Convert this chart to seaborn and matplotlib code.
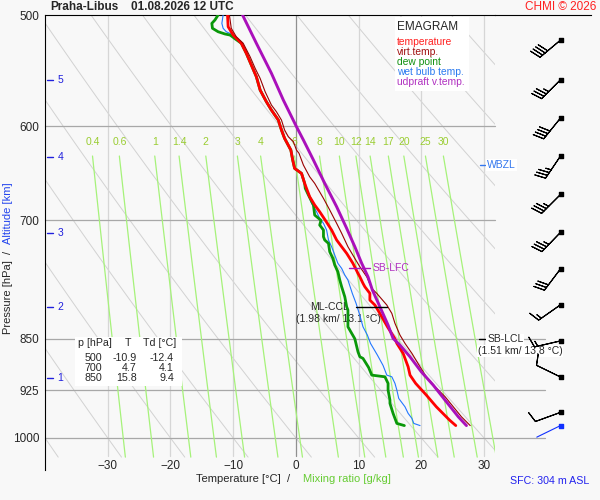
import numpy as np
import matplotlib
matplotlib.use("Agg")
import matplotlib.pyplot as plt
import seaborn as sns
from matplotlib.patches import Rectangle
from matplotlib.ticker import FixedLocator, FixedFormatter, NullLocator

# ---- sounding values (pressure hPa, temperature degC) ----
t_p = [500, 509.7, 516.7, 523.7, 532.4, 542.7, 553.2, 565.4, 576.4, 584.3, 593.9, 603.7,
       612, 623.9, 634.2, 642.9, 648.2, 658.9, 673.5, 682.7, 690.3, 700, 711.3, 723, 731,
       739, 751.2, 763.6, 767.9, 776.2, 780.6, 789.1, 797.8, 804.3, 819.9, 833.5, 850,
       856.5, 863.5, 870.6, 877.8, 890, 902.2, 914.5, 932.2, 950.3, 971.2, 980]
t_val = [-10.9, -10.8, -10.0, -8.7, -7.9, -7.1, -6.3, -5.7, -4.7, -3.9, -2.8, -2.3,
         -1.8, -0.8, -0.5, -0.2, 0.9, 1.4, 2.2, 3.0, 3.8, 4.7, 5.7, 6.5, 7.3,
         8.1, 9.1, 9.9, 10.2, 10.7, 11.0, 11.8, 11.8, 12.6, 13.7, 14.6, 15.8,
         16.1, 16.6, 17.1, 17.4, 17.9, 18.2, 19.1, 20.8, 22.4, 24.5, 25.5]

tv_p = [500, 511, 518.1, 523.7, 535.4, 545.6, 554.7, 567, 579.5, 585.9, 593.9, 603.7,
        610.4, 615.4, 623.9, 627.2, 639.4, 651.8, 658.9, 675.3, 688.3, 703.5, 715.1, 731,
        745.1, 755.4, 767.9, 782.6, 789.1, 804.3, 815.4, 828.8, 844.9, 856.5, 870.6, 890,
        904.7, 919.6, 934.8, 950.3, 966, 980]
tv_val = [-10.6, -10.3, -9.5, -8.4, -7.3, -6.5, -5.7, -4.9, -3.9, -3.1, -2.3, -1.8,
          -1.2, -0.4, 0.1, 0.5, 1.2, 2.2, 3.0, 4.4, 5.4, 6.5, 7.3, 8.3,
          9.4, 10.2, 11.3, 12.1, 12.9, 14.5, 15.3, 15.8, 16.6, 17.4, 18.5, 19.8,
          20.8, 22.2, 23.8, 25.1, 26.4, 27.8]

td_p = [500, 504.1, 506.9, 511, 513.9, 515.8, 516.7, 518.6, 519.5, 523.7, 532.4, 542.7,
        553.2, 565.4, 576.4, 584.3, 593.9, 603.7, 612, 623.9, 634.2, 642.9, 648.2, 658.9,
        664.3, 671.6, 682.7, 694, 700, 705.5, 711.3, 719.1, 723, 727, 737, 745.1, 753.3,
        761.6, 772, 780.6, 793.5, 806.6, 811, 833.5, 842.5, 850, 868.3, 875.5, 877.8,
        891, 902.2, 904.7, 914.5, 924.6, 939.9, 945, 960.6, 976.5, 980]
td_val = [-12.4, -12.9, -13.4, -13.3, -12.4, -11.3, -10.5, -10.0, -9.8, -8.7, -7.9, -7.1,
          -6.3, -5.7, -4.7, -3.9, -2.8, -2.3, -1.8, -0.8, -0.5, -0.2, 0.9, 1.4,
          1.5, 2.0, 2.8, 3.0, 4.0, 3.8, 4.4, 4.4, 4.6, 5.2, 5.4, 5.9, 6.2,
          6.7, 7.0, 7.3, 7.8, 8.1, 8.3, 8.3, 8.9, 9.4, 9.9, 10.2, 10.7,
          11.6, 12.1, 14.2, 14.7, 14.7, 15.0, 15.0, 15.5, 16.1, 17.3]

tw_p = [500, 506.9, 511, 513.9, 515.8, 517.5, 523.7, 532.4, 542.7, 553.2, 565.4, 576.4,
        584.3, 593.9, 603.7, 612, 623.9, 634.2, 642.9, 648.2, 658.9, 673.5, 680.8, 690.3,
        697.8, 703.5, 711.3, 723, 731, 741, 751.2, 757.4, 765.7, 772, 789.1, 802.1, 818,
        833.5, 844.9, 856.5, 873.1, 888, 902.2, 904.7, 914.5, 924.6, 937.3, 950.3, 960.6,
        968.5, 976.5, 980]
tw_val = [-11.6, -11.8, -11.6, -11.1, -10.3, -10.0, -8.7, -7.9, -7.1, -6.3, -5.7, -4.7,
          -3.9, -2.8, -2.3, -1.8, -0.8, -0.5, -0.2, 0.9, 1.4, 2.1, 2.5, 3.3,
          3.8, 4.4, 4.9, 5.2, 5.7, 6.2, 6.7, 7.3, 7.8, 8.3, 9.0, 9.6, 10.2,
          10.7, 11.4, 11.9, 13.0, 13.9, 14.5, 15.3, 15.8, 16.1, 16.4, 17.4, 17.9,
          18.5, 18.8, 19.8]

up_p = [500, 523.7, 550.1, 574.8, 600.5, 613.7, 634.2, 658.9, 684.6, 709.3, 731, 751.2,
        767.9, 784.8, 806.6, 831.2, 849.5, 858.9, 875.5, 897.3, 917.1, 942.5, 966, 980]
up_val = [-8.5, -6.3, -3.9, -2.0, 0.1, 1.2, 2.8, 4.6, 6.5, 8.1, 9.4, 10.5,
          11.5, 12.2, 13.4, 14.7, 15.5, 16.6, 18.2, 20.0, 21.9, 24.0, 25.9, 27.2]

# wind barbs (last one = surface, drawn in blue)
wind_p = [521, 556, 592, 630, 671, 714, 758, 804, 853, 905, 959, 980]
wind_dir = [230, 225, 219, 214, 225, 224, 217, 235, 257, 296, 250, 244]
wind_spd = [40, 35, 40, 35, 35, 35, 30, 15, 15, 10, 10, 3]

# altitude marks (km) and the pressure where they sit
alt_km = [1, 2, 3, 4, 5]
alt_p = [907, 807, 715, 631, 556]

# background lines
mix_ratios = [0.4, 0.6, 1, 1.4, 2, 3, 4, 6, 8, 10, 12, 14, 17, 20, 25, 30]
mix_labels = ["0.4", "0.6", "1", "1.4", "2", "3", "4", "6", "8", "10", "12", "14", "17", "20", "25", "30"]
theta_c = list(range(-50, 110, 10))
p_ticks = [500, 600, 700, 850, 925, 1000]
t_ticks = [-30, -20, -10, 0, 10, 20, 30]

tbl_p = [500, 700, 850]
tbl_t = [-10.9, 4.7, 15.8]
tbl_td = [-12.4, 4.1, 9.4]

sns.set_style("white")
plt.rcParams['font.family'] = ['Liberation Sans', 'DejaVu Sans']

W, H = 600, 500
BG = '#f8f8f8'
fig = plt.figure(figsize=(6, 5), dpi=100, facecolor=BG)


def fx(x):
    return x / W


def fy(y):
    return 1 - y / H


ax = fig.add_axes([fx(45), fy(470), 450 / W, 455 / H])
ax.set_facecolor(BG)
ax.set_yscale('log')
ax.set_xlim(-40, 31.75)
ax.set_ylim(1054, 500)

P_LOW = 1032
# dry adiabats
pp = np.linspace(500, P_LOW, 80)
for th in theta_c:
    tt = (th + 273.15) * (pp / 1000.0) ** 0.2857 - 273.15
    ax.plot(tt, pp, color='#d2d2d2', lw=0.7, zorder=1)

# mixing ratio lines
pm = np.linspace(630, P_LOW, 30)
for w, lab in zip(mix_ratios, mix_labels):
    e = w * pm / (622.0 + w)
    le = np.log(e / 6.112)
    tdm = 243.5 * le / (17.67 - le)
    ax.plot(tdm, pm, color='#a6f27a', lw=0.9, zorder=1.5)
    ax.text(tdm[0], 615.7, lab, color='#9acd32', fontsize=7.5, ha='center', va='center', zorder=2)

# grid
for t in t_ticks:
    ax.plot([t, t], [500, 1030], color='#909090' if t == 0 else '#d6d6d6', lw=0.9, zorder=1.2)
for p in p_ticks[1:]:
    xr = 39.7 if p >= 850 else 31.75
    ax.plot([-40, xr], [p, p], color='#a8a8a8', lw=0.9, zorder=1.3, clip_on=False)

# white boxes (legend, table)
fig.patches.append(Rectangle((fx(395), fy(91)), 74 / W, 74 / H, transform=fig.transFigure,
                             facecolor='white', edgecolor='none', zorder=3))
fig.patches.append(Rectangle((fx(75), fy(386)), 107 / W, 49 / H, transform=fig.transFigure,
                             facecolor='white', edgecolor='none', zorder=3))

# profiles
sns.lineplot(x=tw_val, y=tw_p, sort=False, estimator=None, ax=ax, color='#2277ff', lw=0.8, zorder=4)
sns.lineplot(x=td_val, y=td_p, sort=False, estimator=None, ax=ax, color='#0a980a', lw=2.0, zorder=4)
sns.lineplot(x=t_val, y=t_p, sort=False, estimator=None, ax=ax, color='#ff0000', lw=2.0, zorder=5)
sns.lineplot(x=tv_val, y=tv_p, sort=False, estimator=None, ax=ax, color='#990000', lw=0.8, zorder=5)
sns.lineplot(x=up_val, y=up_p, sort=False, estimator=None, ax=ax, color='#aa10bb', lw=2.1, zorder=6)

# axes styling
for s in ['right', 'bottom']:
    ax.spines[s].set_visible(False)
ax.spines['left'].set_color('black')
ax.spines['top'].set_color('black')
ax.yaxis.set_major_locator(FixedLocator(p_ticks))
ax.yaxis.set_major_formatter(FixedFormatter([str(p) for p in p_ticks]))
ax.yaxis.set_minor_locator(NullLocator())
ax.set_xticks(t_ticks)
ax.tick_params(axis='y', length=0, pad=4, labelsize=8.5)
ax.tick_params(axis='x', length=0, pad=-7, labelsize=8.5)
ax.grid(False)

# altitude marks
for km, p in zip(alt_km, alt_p):
    ax.plot([0.005, 0.018], [p, p], transform=ax.get_yaxis_transform(), color='#2020dd', lw=1.0)
    ax.text(0.028, p, str(km), transform=ax.get_yaxis_transform(), color='#2020dd',
            fontsize=7.5, va='center', ha='left')

# annotations
ax.plot([8.45, 11.8], [757.4, 757.4], color='#aa10bb', lw=1.0, zorder=7)
ax.text(12.3, 757.4, 'SB-LFC', color='#b030c0', fontsize=7.5, va='center', ha='left', zorder=7)
ax.plot([9.6, 14.5], [807.4, 807.4], color='black', lw=1.0, zorder=7)
ax.text(5.3, 807.4, 'ML-CCL', fontsize=7.5, va='center', ha='center', zorder=3.5)
ax.text(6.8, 822.9, '(1.98 km/ 13.1 °C)', fontsize=7.5, va='center', ha='center', zorder=3.5)
ax.plot([29.2, 30.2], [851, 851], color='black', lw=1.0, zorder=7)
ax.text(30.5, 851, 'SB-LCL', fontsize=7.5, va='center', ha='left', zorder=8,
        bbox=dict(facecolor='white', edgecolor='none', pad=0.5))
ax.text(29.0, 867, '(1.51 km/ 13.8 °C)', fontsize=7.5, va='center', ha='left', zorder=8,
        bbox=dict(facecolor='white', edgecolor='none', pad=0.5))
ax.plot([29.3, 30.1], [639.4, 639.4], color='#3377ee', lw=1.0, zorder=7)
ax.text(30.5, 639.4, 'WBZL', color='#3377ee', fontsize=7.5, va='center', ha='left', zorder=8,
        bbox=dict(facecolor='white', edgecolor='none', pad=1.0))

# wind barbs
ax2 = fig.add_axes([fx(495), fy(470), 96 / W, 455 / H], sharey=ax)
ax2.set_facecolor('none')
ax2.set_xlim(0, 96)
for s in ['right', 'bottom', 'left']:
    ax2.spines[s].set_visible(False)
ax2.spines['top'].set_color('black')
ax2.tick_params(left=False, labelleft=False, bottom=False, labelbottom=False)
ax2.grid(False)
rad = np.deg2rad(wind_dir)
u = -np.array(wind_spd) * np.sin(rad)
v = -np.array(wind_spd) * np.cos(rad)
bx = np.full(len(wind_p), 65.5)
ax2.barbs(bx[:-1], wind_p[:-1], u[:-1], v[:-1], length=6.2, lw=0.8, color='black', rounding=False)
ax2.scatter(bx[:-1], wind_p[:-1], marker='s', s=5, color='black', zorder=5)
# surface wind: calm-ish, staff only
sfc_len = 19.0
ax2.annotate('', xy=(bx[-1], wind_p[-1]),
             xytext=(sfc_len * np.sin(rad[-1]), sfc_len * np.cos(rad[-1])),
             textcoords='offset points', arrowprops=dict(arrowstyle='-', color='#1030ff', lw=0.8,
                                                         shrinkA=0, shrinkB=0))
ax2.scatter(bx[-1:], wind_p[-1:], marker='s', s=5, color='#1030ff', zorder=5)

# legend
fig.text(fx(397), fy(27), 'EMAGRAM', fontsize=8.5, va='center', ha='left', zorder=4)
leg = [('temperature', '#ff2020'), ('virt.temp.', '#a01010'), ('dew point', '#109010'),
       ('wet bulb temp.', '#2a7af0'), ('udpraft v.temp.', '#b030c0')]
for i, (lab, c) in enumerate(leg):
    fig.text(fx(397), fy(42 + 10 * i), lab, color=c, fontsize=7.4, va='center', ha='left', zorder=4)

# table
fig.text(fx(78), fy(343), 'p [hPa]', fontsize=7.7, va='center', ha='left', zorder=4)
fig.text(fx(128), fy(343), 'T', fontsize=7.7, va='center', ha='center', zorder=4)
fig.text(fx(143), fy(343), 'Td [°C]', fontsize=7.7, va='center', ha='left', zorder=4)
for i, (p, t, td) in enumerate(zip(tbl_p, tbl_t, tbl_td)):
    y = 358 + 10 * i
    fig.text(fx(102), fy(y), f'{p}', fontsize=7.7, va='center', ha='right', zorder=4)
    fig.text(fx(137), fy(y), f'{t:.1f}', fontsize=7.7, va='center', ha='right', zorder=4)
    fig.text(fx(174), fy(y), f'{td:.1f}', fontsize=7.7, va='center', ha='right', zorder=4)

# titles and labels
fig.text(fx(50), fy(7), 'Praha-Libus', fontsize=8.5, fontweight='bold', va='center', ha='left')
fig.text(fx(131), fy(7), '01.08.2026 12 UTC', fontsize=8.5, fontweight='bold', va='center', ha='left')
fig.text(fx(596), fy(7), 'CHMI © 2026', color='#ff2020', fontsize=8.5, va='center', ha='right')
fig.text(fx(290), fy(479), 'Temperature [°C]  /', fontsize=8, va='center', ha='right')
fig.text(fx(303), fy(479), 'Mixing ratio [g/kg]', color='#66cc33', fontsize=8, va='center', ha='left')
fig.text(fx(589), fy(481), 'SFC: 304 m ASL', color='#2222ee', fontsize=7.7, va='center', ha='right')
fig.text(fx(8), fy(297), 'Pressure [hPa]', fontsize=8, rotation=90, va='center', ha='center')
fig.text(fx(8), fy(252), '/', fontsize=8, rotation=90, va='center', ha='center')
fig.text(fx(8), fy(213), 'Altitude [km]', color='#2244ee', fontsize=8, rotation=90, va='center', ha='center')

fig.savefig('out.png', dpi=100, facecolor=BG)
